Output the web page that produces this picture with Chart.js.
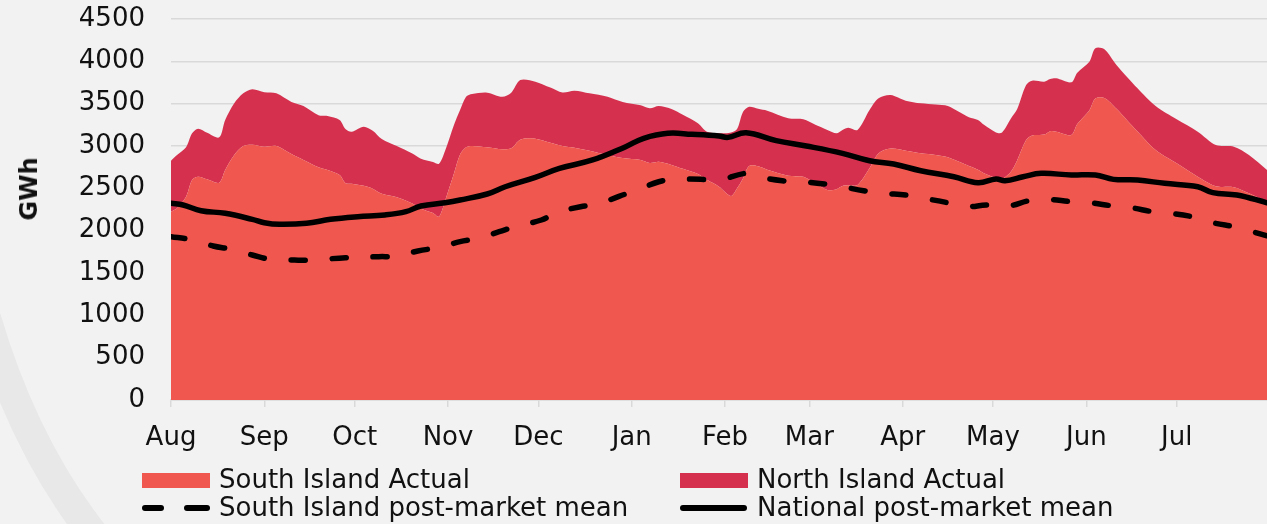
<!DOCTYPE html>
<html>
<head>
<meta charset="utf-8">
<script src="https://cdn.jsdelivr.net/npm/chart.js@4.4.1/dist/chart.umd.min.js"></script>
<style>
  html, body { margin: 0; padding: 0; background: #F2F2F2; }
  #wrap { position: relative; width: 1267px; height: 524px; overflow: hidden; background: #F2F2F2; font-family: "DejaVu Sans", sans-serif; }
  #deco { position: absolute; left: 0; top: 0; }
  #c { position: absolute; left: 0; top: 0; }
  #ytitle { position: absolute; left: 29px; top: 189px; transform: translate(-50%, -50%) rotate(-90deg); font-weight: 700; font-size: 24px; color: #111; white-space: nowrap; }
  .leg { position: absolute; font-size: 26px; color: #111; white-space: nowrap; line-height: 28px; }
  .sw { position: absolute; }
</style>
</head>
<body>
<div id="wrap">
  <svg id="deco" width="1267" height="524"><path d="M -14 318 Q 25 450 98 540" stroke="#E8E8E8" stroke-width="30" fill="none"/></svg>
  <canvas id="c" width="1267" height="524"></canvas>
  <div id="ytitle">GWh</div>
  <div id="legend"></div>
</div>
<script>
// ---- Data (day index from 1 Aug) ----
const monthStarts = [0, 31, 61, 92, 122, 153, 184, 212, 243, 273, 304, 334];
const monthLabels = ['Aug','Sep','Oct','Nov','Dec','Jan','Feb','Mar','Apr','May','Jun','Jul'];
const yTicks = [0, 500, 1000, 1500, 2000, 2500, 3000, 3500, 4000, 4500];

const actualDays = [0,2,5,7,9,12,16,18,21,24,27,31,35,40,44,49,52,56,58,60,64,67,70,75,80,83,87,89,91,94,96,98,100,105,110,113,116,121,126,130,134,139,145,150,156,159,162,166,170,175,178,182,186,188,190,192,195,198,205,210,214,218,221,223,225,228,232,235,239,244,249,254,258,265,268,270,274,276,279,281,284,286,290,292,294,299,301,305,307,310,314,321,327,334,341,347,353,358,364];
const southActual = [2224,2264,2401,2598,2637,2606,2567,2716,2894,3000,3016,2992,3000,2905,2835,2748,2716,2657,2559,2555,2530,2495,2435,2394,2323,2260,2210,2165,2350,2677,2900,2985,3000,2984,2961,2973,3075,3087,3039,3000,2980,2945,2894,2858,2835,2800,2815,2780,2730,2670,2600,2520,2410,2500,2620,2764,2760,2720,2650,2637,2559,2480,2490,2527,2535,2539,2736,2913,2970,2945,2915,2894,2866,2764,2720,2677,2620,2610,2700,2830,3071,3125,3135,3175,3169,3130,3260,3420,3560,3568,3440,3170,2953,2795,2637,2525,2512,2441,2340];
const northActual = [602,630,584,552,568,551,535,591,610,622,653,642,622,615,637,614,638,650,638,614,698,685,648,606,590,590,601,625,590,573,525,597,614,646,621,657,704,673,651,632,673,677,688,662,645,645,657,660,640,600,569,630,750,700,785,700,680,697,677,678,691,710,660,663,681,650,689,650,632,590,589,596,606,575,587,573,540,550,627,603,649,646,625,615,630,622,606,576,594,574,517,511,519,520,532,487,480,453,377];

const nationalDays = [0,4,10,18,27,31,36,45,53,62,71,78,83,91,96,105,111,121,129,140,151,157,165,173,182,185,191,201,211,223,232,240,249,260,268,274,277,283,289,299,307,313,321,330,341,346,354,364];
const nationalMean = [2323,2303,2236,2205,2134,2094,2075,2087,2134,2165,2185,2224,2291,2330,2362,2433,2519,2630,2736,2835,2992,3091,3150,3138,3118,3102,3157,3063,3000,2913,2826,2787,2708,2637,2567,2610,2590,2637,2677,2657,2657,2606,2598,2559,2519,2449,2421,2330];

const southMeanDays = [0,6,14,20,27,33,41,47,58,69,75,82,89,96,102,109,115,123,128,136,142,149,155,162,168,176,182,191,195,203,209,217,223,230,237,244,250,258,264,271,278,285,291,299,305,313,319,326,332,340,346,354,360,364];
const southMean = [1929,1898,1819,1780,1713,1662,1653,1653,1681,1693,1700,1760,1803,1870,1909,1988,2055,2126,2212,2283,2315,2409,2480,2578,2606,2606,2598,2677,2637,2590,2578,2551,2519,2472,2441,2421,2382,2330,2283,2303,2291,2354,2370,2342,2330,2291,2271,2224,2205,2158,2094,2040,1980,1940];

const seriesNames = ['South Island Actual', 'North Island Actual', 'South Island post-market mean', 'National post-market mean'];

// ---- Styles ----
const SOUTH_COL = '#F0574F';
const NORTH_COL = '#D5314F';
const FONT = '"DejaVu Sans", sans-serif';

const pts = (xs, ys) => xs.map((d, i) => ({ x: d, y: ys[i] }));

const ctx = document.getElementById('c');
new Chart(ctx, {
  type: 'line',
  data: {
    datasets: [
      { label: seriesNames[2], data: pts(southMeanDays, southMean), borderColor: '#000', borderWidth: 5.5, borderDash: [14, 27], borderCapStyle: 'round', pointRadius: 0, tension: 0.4, fill: false, stack: 's' },
      { label: seriesNames[3], data: pts(nationalDays, nationalMean), borderColor: '#000', borderWidth: 5.5, borderCapStyle: 'round', pointRadius: 0, tension: 0.4, fill: false, stack: 'n' },
      { label: seriesNames[0], data: pts(actualDays, southActual), backgroundColor: SOUTH_COL, borderWidth: 0, borderColor: SOUTH_COL, pointRadius: 0, tension: 0.3, fill: 'origin', stack: 'a' },
      { label: seriesNames[1], data: pts(actualDays, northActual), backgroundColor: NORTH_COL, borderWidth: 0, borderColor: NORTH_COL, pointRadius: 0, tension: 0.3, fill: '-1', stack: 'a' }
    ]
  },
  options: {
    responsive: false,
    animation: false,
    layout: { padding: { left: 0, right: 0, top: 19, bottom: 54 } },
    plugins: { legend: { display: false }, tooltip: { enabled: false } },
    scales: {
      x: {
        type: 'linear', min: 0, max: 364,
        afterBuildTicks: s => { s.ticks = monthStarts.map(v => ({ value: v })); },
        afterFit: s => { s.height = 70; s.paddingLeft = 0; s.paddingRight = 0; },
        ticks: { callback: v => monthLabels[monthStarts.indexOf(v)], font: { family: FONT, size: 26 }, color: '#111', padding: 16, maxRotation: 0, autoSkip: false },
        grid: { drawOnChartArea: false, drawTicks: true, tickLength: 7, color: '#D9D9D9', lineWidth: 1.5 },
        border: { display: true, color: '#D9D9D9', width: 1.5 }
      },
      y: {
        stacked: true, min: 0, max: 4500,
        afterBuildTicks: s => { s.ticks = yTicks.map(v => ({ value: v })); },
        afterFit: s => { s.width = 171; s.paddingTop = 0; s.paddingBottom = 0; },
        ticks: { callback: v => String(v), font: { family: FONT, size: 26 }, color: '#111', padding: 26 },
        grid: { color: '#D9D9D9', lineWidth: 1.5, drawTicks: false },
        border: { display: false }
      }
    }
  }
});

// ---- HTML legend ----
const legend = document.getElementById('legend');
const items = [
  { name: seriesNames[0], x: 142, y: 480, kind: 'box', color: SOUTH_COL },
  { name: seriesNames[1], x: 680, y: 480, kind: 'box', color: NORTH_COL },
  { name: seriesNames[2], x: 142, y: 508, kind: 'dash' },
  { name: seriesNames[3], x: 680, y: 508, kind: 'line' }
];
items.forEach(it => {
  if (it.kind === 'box') {
    const sw = document.createElement('div');
    sw.className = 'sw';
    sw.style.cssText = `left:${it.x}px;top:${it.y - 7}px;width:68px;height:15px;background:${it.color};`;
    legend.appendChild(sw);
  } else if (it.kind === 'line') {
    const sw = document.createElement('div');
    sw.className = 'sw';
    sw.style.cssText = `left:${it.x}px;top:${it.y - 3}px;width:67px;height:6px;border-radius:3px;background:#000;`;
    legend.appendChild(sw);
  } else {
    [[it.x, 22], [it.x + 42, 26]].forEach(([l, w]) => {
      const d = document.createElement('div');
      d.className = 'sw';
      d.style.cssText = `left:${l}px;top:${it.y - 3}px;width:${w}px;height:6px;border-radius:3px;background:#000;`;
      legend.appendChild(d);
    });
  }
  const t = document.createElement('div');
  t.className = 'leg';
  t.textContent = it.name;
  t.style.left = (it.x + 77) + 'px';
  t.style.top = (it.y - 15) + 'px';
  legend.appendChild(t);
});
</script>
</body>
</html>
